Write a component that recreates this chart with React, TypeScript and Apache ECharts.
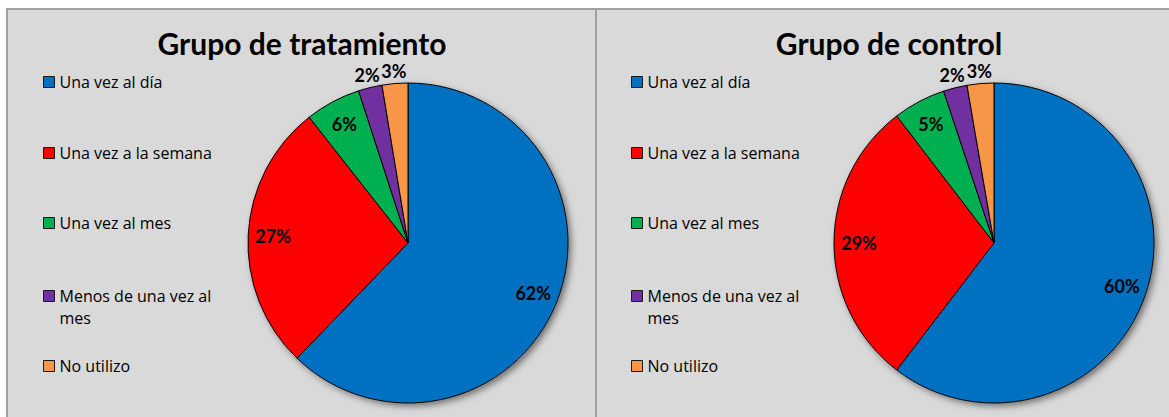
import React, { useEffect, useRef } from "react";
import * as echarts from "echarts";

const categories = [
  "Una vez al día",
  "Una vez a la semana",
  "Una vez al mes",
  "Menos de una vez al mes",
  "No utilizo",
];
const tratamiento = [62.2, 27.2, 5.6, 2.4, 2.6];
const control = [60.4, 29.2, 5.3, 2.4, 2.7];
const titles = ["Grupo de tratamiento", "Grupo de control"];
const colors = ["#0070C0", "#FF0000", "#00B050", "#7030A0", "#F79646"];

const FONT = "Lato, 'Open Sans', sans-serif";
const LEGEND_FONT = "'Open Sans', Lato, sans-serif";
const R = 160;
const panels = [
  { x: 7, w: 589, cx: 408, cy: 243, titleX: 302, legendX: 43, values: tratamiento, title: titles[0] },
  { x: 596, w: 620, cx: 994, cy: 243, titleX: 889, legendX: 631, values: control, title: titles[1] },
];
const legendTops = [71, 142, 212, 263, 355];
// wrapped legend entry: an empty first line keeps the swatch on the text's first line
const legendLead = [false, false, false, true, false];
const insideIdx = [0, 1, 2];

const pct = (p: any) => Math.round(p.percent) + "%";

export default function App() {
  const ref = useRef<HTMLDivElement>(null);
  useEffect(() => {
    const chart = echarts.init(ref.current!, undefined, { renderer: "svg" });
    const series: any[] = [];
    const legends: any[] = [];
    const graphic: any[] = [];
    panels.forEach((p, k) => {
      graphic.push({
        type: "rect",
        z: 0,
        shape: { x: p.x, y: 9, width: p.w, height: 430 },
        style: { fill: "#D9D9D9", stroke: "#A0A0A0", lineWidth: 2 },
      });
      graphic.push({
        type: "text",
        z: 1,
        x: p.titleX,
        y: 43,
        style: {
          text: p.title,
          fontFamily: FONT,
          fontWeight: "bold",
          fontSize: 30,
          fill: "#000",
          textAlign: "center",
          textVerticalAlign: "middle",
        },
      });
      series.push({
        type: "pie",
        name: "shadow" + k,
        center: [p.cx, p.cy],
        radius: R,
        silent: true,
        z: 1,
        label: { show: false },
        labelLine: { show: false },
        data: [{ value: 1, name: "_shadow" + k }],
        itemStyle: {
          color: "#D9D9D9",
          shadowBlur: 7,
          shadowOffsetX: 3,
          shadowOffsetY: 3,
          shadowColor: "rgba(0,0,0,0.5)",
        },
      });
      series.push({
        type: "pie",
        name: p.title,
        center: [p.cx, p.cy],
        radius: R,
        startAngle: 90,
        clockwise: true,
        z: 2,
        emphasis: { disabled: true },
        label: { show: false },
        labelLine: { show: false },
        itemStyle: { borderColor: "#000", borderWidth: 1 },
        data: categories.map((c, i) => ({
          name: c,
          value: p.values[i],
          itemStyle: { color: colors[i] },
        })),
      });
      const labelStyle = {
        fontFamily: FONT,
        fontWeight: "bold",
        fontSize: 18,
        color: "#000",
        rotate: 0,
        formatter: pct,
      };
      series.push({
        type: "pie",
        name: p.title + " inside",
        center: [p.cx, p.cy],
        radius: [104, R],
        silent: true,
        z: 3,
        avoidLabelOverlap: false,
        labelLine: { show: false },
        itemStyle: { color: "transparent", borderWidth: 0 },
        data: categories.map((c, i) => ({
          name: c,
          value: p.values[i],
          label: { show: insideIdx.includes(i), position: "inside", ...labelStyle },
        })),
      });
      series.push({
        type: "pie",
        name: p.title + " outside",
        center: [p.cx, p.cy],
        radius: [R, 180],
        silent: true,
        z: 3,
        avoidLabelOverlap: false,
        labelLine: { show: false },
        itemStyle: { color: "transparent", borderWidth: 0 },
        data: categories.map((c, i) => ({
          name: c,
          value: p.values[i],
          label: { show: !insideIdx.includes(i), position: "inside", ...labelStyle },
        })),
      });
      categories.forEach((c, i) => {
        legends.push({
          data: [c],
          orient: "vertical",
          left: p.legendX,
          top: legendTops[i],
          padding: 0,
          itemWidth: 11,
          itemHeight: 11,
          icon: "rect",
          selectedMode: false,
          formatter: (name: string) => (legendLead[i] ? "\n" + name : name),
          itemStyle: { borderColor: "#1a1a1a", borderWidth: 1 },
          textStyle: {
            fontFamily: LEGEND_FONT,
            fontSize: 16,
            color: "#000",
            lineHeight: 22,
            width: 170,
            overflow: "break",
          },
        });
      });
    });
    chart.setOption({
      animation: false,
      backgroundColor: "#ffffff",
      graphic,
      legend: legends,
      series,
    });
    return () => chart.dispose();
  }, []);
  return (
    <div
      ref={ref}
      style={{ position: "absolute", left: 0, top: 0, width: 1169, height: 417 }}
    />
  );
}
